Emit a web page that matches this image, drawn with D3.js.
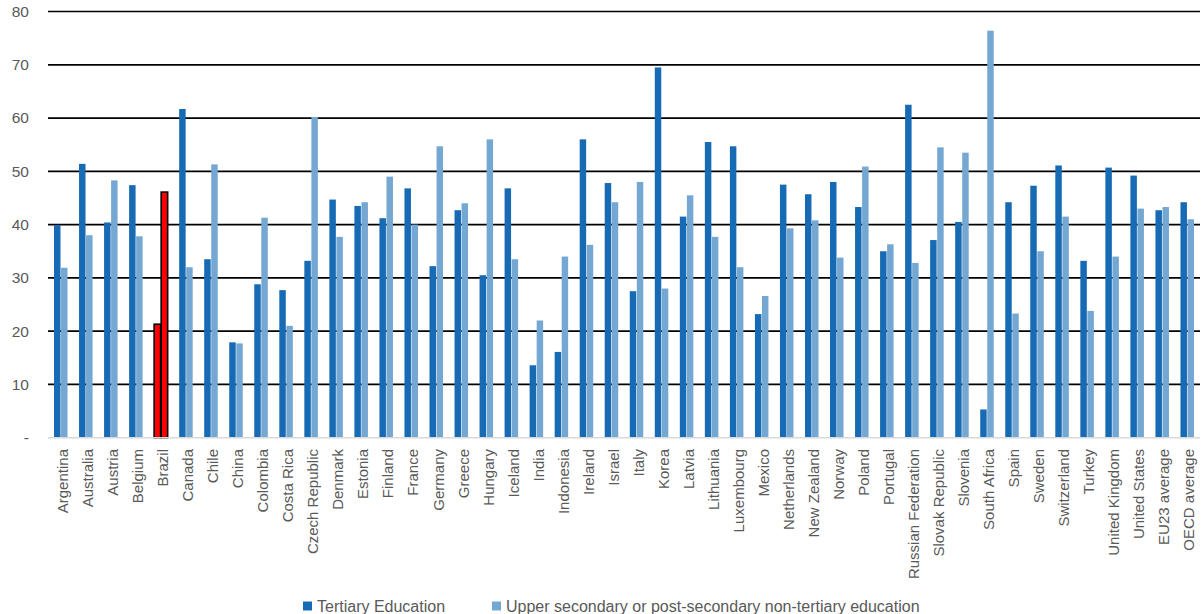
<!DOCTYPE html>
<html>
<head>
<meta charset="utf-8">
<script src="https://cdn.jsdelivr.net/npm/d3@7"></script>
<style>
  html, body { margin: 0; padding: 0; background: #fff; }
  svg { display: block; font-family: "Liberation Sans", Arial, sans-serif; }
</style>
</head>
<body>
<svg id="chart" width="1203" height="614"></svg>
<script>
const categories = ["Argentina","Australia","Austria","Belgium","Brazil","Canada","Chile","China","Colombia","Costa Rica","Czech Republic","Denmark","Estonia","Finland","France","Germany","Greece","Hungary","Iceland","India","Indonesia","Ireland","Israel","Italy","Korea","Latvia","Lithuania","Luxembourg","Mexico","Netherlands","New Zealand","Norway","Poland","Portugal","Russian Federation","Slovak Republic","Slovenia","South Africa","Spain","Sweden","Switzerland","Turkey","United Kingdom","United States","EU23 average","OECD average"];

const tertiary = [39.9,51.4,40.4,47.4,21.3,61.7,33.5,17.9,28.8,27.7,33.2,44.7,43.5,41.2,46.8,32.2,42.7,30.5,46.8,13.6,16.1,56.0,47.8,27.5,69.5,41.5,55.5,54.7,23.2,47.5,45.7,48.0,43.3,35.0,62.5,37.1,40.5,5.3,44.2,47.3,51.1,33.2,50.7,49.2,42.7,44.2];

const upperSecondary = [31.9,38.0,48.3,37.8,46.1,32.0,51.3,17.7,41.3,21.0,60.2,37.7,44.2,49.0,40.0,54.7,44.0,56.0,33.5,22.0,34.0,36.2,44.2,48.0,28.0,45.5,37.7,32.0,26.6,39.3,40.8,33.8,50.9,36.3,32.8,54.5,53.5,76.4,23.3,35.0,41.5,23.8,34.0,43.0,43.3,41.0];

const seriesNames = ["Tertiary Education","Upper secondary or post-secondary non-tertiary education"];
const yTicks = [0,10,20,30,40,50,60,70,80];
const yTickLabels = ["-","10","20","30","40","50","60","70","80"];
const highlight = "Brazil";

const colors = ["#176ab4", "#75a7d3"];
const textColor = "#595959";

const svg = d3.select("#chart");
const plotLeft = 48, plotRight = 1200, plotTop = 11.5, plotBottom = 437.7;

const x0 = d3.scaleBand().domain(categories).range([plotLeft, plotRight]).paddingInner(0.46).paddingOuter(0.24);
const x1 = d3.scaleBand().domain([0,1]).range([0, x0.bandwidth()]).paddingInner(0.08);
const y = d3.scaleLinear().domain([0, 80]).range([plotBottom, plotTop]);

// gridlines
svg.append("g").selectAll("line").data(yTicks.filter(d => d > 0)).join("line")
  .attr("x1", plotLeft).attr("x2", plotRight)
  .attr("y1", d => y(d)).attr("y2", d => y(d))
  .attr("stroke", "#000").attr("stroke-width", 1.7);

// y tick labels
svg.append("g").selectAll("text").data(yTicks).join("text")
  .attr("x", 29).attr("y", d => y(d)).attr("dy", "0.35em")
  .attr("text-anchor", "end")
  .attr("font-size", 15.5).attr("fill", textColor)
  .text((d, i) => yTickLabels[i]);

// bars
const rows = categories.map((c, i) => ({ c, vals: [tertiary[i], upperSecondary[i]] }));
const groups = svg.append("g").selectAll("g").data(rows).join("g")
  .attr("transform", d => `translate(${x0(d.c)},0)`);

groups.selectAll("rect").data(d => d.vals.map((v, k) => ({ v, k, c: d.c }))).join("rect")
  .attr("x", d => x1(d.k))
  .attr("width", x1.bandwidth())
  .attr("y", d => y(d.v))
  .attr("height", d => y(0) - y(d.v))
  .attr("fill", d => d.c === highlight ? "#ff0000" : colors[d.k])
  .attr("stroke", d => d.c === highlight ? "#000" : "none")
  .attr("stroke-width", d => d.c === highlight ? 1.6 : 0);

// baseline
svg.append("line").attr("x1", plotLeft).attr("x2", plotRight)
  .attr("y1", y(0)).attr("y2", y(0))
  .attr("stroke", "#d9d9d9").attr("stroke-width", 1.5);

// x labels
svg.append("g").selectAll("text").data(categories).join("text")
  .attr("transform", d => `translate(${x0(d) + x0.bandwidth() / 2 + 2},449) rotate(-90)`)
  .attr("dy", "0.35em")
  .attr("text-anchor", "end")
  .attr("font-size", 15).attr("fill", textColor)
  .text(d => d);

// legend
const legendX = [303, 492];
const lg = svg.append("g").selectAll("g").data(seriesNames).join("g")
  .attr("transform", (d, i) => `translate(${legendX[i]},0)`);
lg.append("rect").attr("x", 0).attr("y", 601.5).attr("width", 9).attr("height", 9)
  .attr("fill", (d, i) => colors[i]);
lg.append("text").attr("x", 14).attr("y", 611.5)
  .attr("font-size", 16).attr("fill", textColor)
  .text(d => d);
</script>
</body>
</html>
